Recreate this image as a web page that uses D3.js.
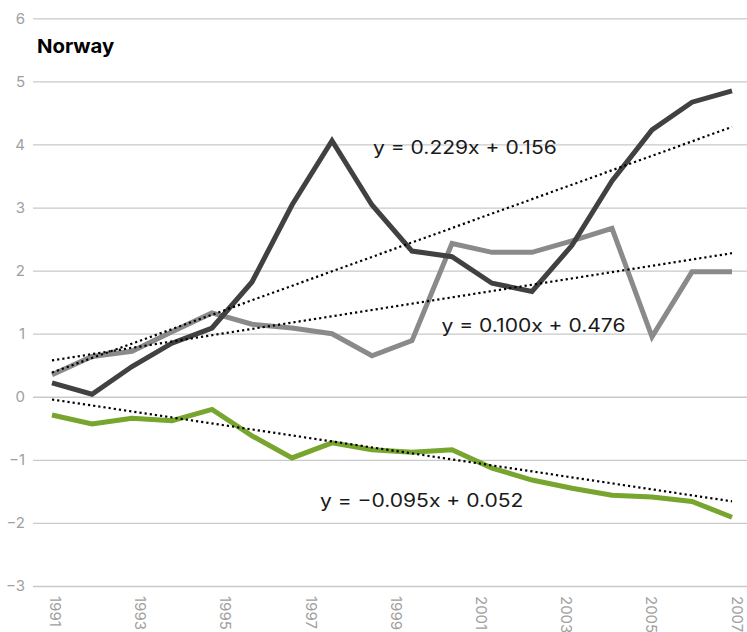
<!DOCTYPE html>
<html>
<head>
<meta charset="utf-8">
<script src="https://cdn.jsdelivr.net/npm/d3@7"></script>
<style>
  html, body { margin: 0; padding: 0; background: #fff; }
  svg { display: block; }
  text { font-family: Inter, "Noto Sans", sans-serif; }
</style>
</head>
<body>
<svg id="chart" width="747" height="632"></svg>
<script>
// Observation index (1..18) used by the trend equations
const periods = d3.range(1, 19);

// Year labels on the horizontal axis
const yearLabels = d3.range(1991, 2008);

// Vertical axis ticks
const yTicks = [-3, -2, -1, 0, 1, 2, 3, 4, 5, 6];

// Series values
const seriesDark  = [0.22, 0.04, 0.48, 0.85, 1.09, 1.82, 3.04, 4.06, 3.04, 2.31, 2.22, 1.80, 1.67, 2.40, 3.42, 4.23, 4.67, 4.85];
const seriesGrey  = [0.35, 0.64, 0.72, 1.03, 1.33, 1.15, 1.09, 1.00, 0.65, 0.89, 2.43, 2.29, 2.29, 2.47, 2.67, 0.95, 1.98, 1.98];
const seriesGreen = [-0.29, -0.43, -0.34, -0.38, -0.20, -0.62, -0.97, -0.73, -0.84, -0.88, -0.84, -1.13, -1.32, -1.45, -1.56, -1.59, -1.66, -1.91];

// Linear trend coefficients: [slope, intercept]
const trendDark  = [0.229, 0.156];
const trendGrey  = [0.100, 0.476];
const trendGreen = [-0.095, 0.052];

const title = "Norway";

const svg = d3.select("#chart");

const x = d3.scaleLinear().domain([1, 18]).range([52, 732]);
const y = d3.scaleLinear().domain([-3, 6]).range([586, 18.3]);
const xLabel = d3.scalePoint().domain(yearLabels).range([50, 731.5]);

// Horizontal gridlines with value labels
const yAxis = d3.axisLeft(y).tickValues(yTicks).tickSize(-714)
  .tickFormat(d => d < 0 ? "\u2212" + Math.abs(d) : String(d));
const gy = svg.append("g").attr("transform", "translate(33,0)").call(yAxis);
gy.select(".domain").remove();
gy.selectAll(".tick line").attr("stroke", "#c9c9c9").attr("stroke-width", 1.3);
gy.selectAll(".tick text")
  .attr("x", -8)
  .attr("fill", "#a0a0a0")
  .style("font-size", "15px")
  .style("font-family", "Inter, sans-serif");

// Rotated year labels, every other year
const gx = svg.append("g");
gx.selectAll("text")
  .data(yearLabels.filter((d, i) => i % 2 === 0))
  .join("text")
  .attr("transform", d => `translate(${xLabel(d)},596) rotate(90)`)
  .attr("text-anchor", "start")
  .attr("fill", "#a0a0a0")
  .style("font-size", "15px")
  .text(d => d);

// Data lines
const line = d3.line().x((d, i) => x(periods[i])).y(d => y(d));
const series = [
  { values: seriesGreen, color: "#77a52e" },
  { values: seriesGrey,  color: "#8a8a8b" },
  { values: seriesDark,  color: "#414141" }
];
svg.append("g").selectAll("path")
  .data(series)
  .join("path")
  .attr("d", d => line(d.values))
  .attr("fill", "none")
  .attr("stroke", d => d.color)
  .attr("stroke-width", 5)
  .attr("stroke-linejoin", "miter");

// Dotted trend lines
const trends = [trendDark, trendGrey, trendGreen];
const ends = [periods[0], periods[periods.length - 1]];
svg.append("g").selectAll("line")
  .data(trends)
  .join("line")
  .attr("x1", x(ends[0])).attr("x2", x(ends[1]))
  .attr("y1", t => y(t[0] * ends[0] + t[1]))
  .attr("y2", t => y(t[0] * ends[1] + t[1]))
  .attr("stroke", "#000")
  .attr("stroke-width", 2.2)
  .attr("stroke-dasharray", "2.2,3");

// Trend equations (slightly widened glyphs)
const fmt = d3.format(".3f");
const eqText = t => "y = " + (t[0] < 0 ? "\u2212" : "") + fmt(Math.abs(t[0])) + "x " +
  (t[1] < 0 ? "\u2212 " : "+ ") + fmt(Math.abs(t[1]));
const eqPos = [[373, 154], [441.5, 331.5], [320, 506.5]];
svg.append("g").selectAll("text")
  .data(trends)
  .join("text")
  .attr("transform", (d, i) => `translate(${eqPos[i][0]},${eqPos[i][1]}) scale(1.17,1)`)
  .attr("fill", "#1a1a1a")
  .style("font-size", "18px")
  .text(eqText);

// Title
svg.append("text")
  .attr("transform", "translate(37,53) scale(1.07,1)")
  .attr("fill", "#000")
  .style("font-size", "19px")
  .style("font-weight", "700")
  .text(title);
</script>
</body>
</html>
